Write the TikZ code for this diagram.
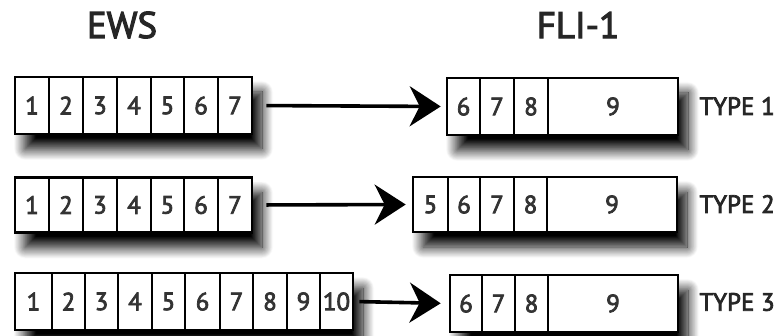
\documentclass[tikz,border=0pt]{standalone}
\usepackage{fontspec}
\setmainfont{PT Sans}
\newfontfamily\semib[FakeBold=3]{PT Sans}
\usetikzlibrary{arrows.meta,shadows.blur}
\tikzset{
  outerbox/.style={draw=black, line width=2.6pt, fill=white, inner sep=0pt,
    blur shadow={shadow xshift=10pt, shadow yshift=-15pt, shadow blur radius=11pt, shadow blur steps=16, shadow opacity=100}},
  cellbox/.style={draw=black, line width=1.3pt, inner sep=0pt, font=\fontsize{25}{25}\semib, text=black!80},
  header/.style={font=\fontsize{37}{37}\semib, text=black!85},
  typelabel/.style={font=\fontsize{25}{25}\semib, text=black!85, anchor=west},
  arr/.style={line width=3.6pt, -{Stealth[length=31pt,width=40pt,inset=10pt]}}
}
\begin{document}
\begin{tikzpicture}[x=1pt,y=-1pt]
\useasboundingbox (0,0) rectangle (784,336);
\node[header] (ews) at (122,25) {EWS};
\node[header] (fli) at (578,25) {FLI-1};

% ---------- Row 1 ----------
\node[outerbox, minimum width=237pt, minimum height=57pt] (e1) at (133.5,105.5) {};
\foreach \a/\b/\t [count=\i] in {15/49/1,49/83/2,83/117/3,117/151/4,151/184/5,184/218/6,218/252/7}
  \node[cellbox, minimum width=\b-\a, minimum height=57pt] (e1c\i) at ({(\a+\b)/2},105.5) {\t};
\node[draw, line width=2.6pt, minimum width=237pt, minimum height=57pt] (e1b) at (133.5,105.5) {};

\node[outerbox, minimum width=231pt, minimum height=57pt] (f1) at (562.5,106.5) {};
\foreach \a/\b/\t [count=\i] in {447/480/6,480/514/7,514/548/8,548/678/9}
  \node[cellbox, minimum width=\b-\a, minimum height=57pt] (f1c\i) at ({(\a+\b)/2},106.5) {\t};
\node[draw, line width=2.6pt, minimum width=231pt, minimum height=57pt] (f1b) at (562.5,106.5) {};
\node[typelabel] (t1) at (696,106) {TYPE 1};

% ---------- Row 2 ----------
\node[outerbox, minimum width=237pt, minimum height=55pt] (e2) at (133.5,205) {};
\foreach \a/\b/\t [count=\i] in {15/49/1,49/83/2,83/117/3,117/151/4,151/184/5,184/218/6,218/252/7}
  \node[cellbox, minimum width=\b-\a, minimum height=55pt] (e2c\i) at ({(\a+\b)/2},205) {\t};
\node[draw, line width=2.6pt, minimum width=237pt, minimum height=55pt] (e2b) at (133.5,205) {};

\node[outerbox, minimum width=264pt, minimum height=55pt] (f2) at (545,204.5) {};
\foreach \a/\b/\t [count=\i] in {413/448/5,448/480/6,480/514/7,514/547/8,547/677/9}
  \node[cellbox, minimum width=\b-\a, minimum height=55pt] (f2c\i) at ({(\a+\b)/2},204.5) {\t};
\node[draw, line width=2.6pt, minimum width=264pt, minimum height=55pt] (f2b) at (545,204.5) {};
\node[typelabel] (t2) at (696,204) {TYPE 2};

% ---------- Row 3 ----------
\node[outerbox, minimum width=338pt, minimum height=57pt] (e3) at (184,301.5) {};
\foreach \a/\b/\t [count=\i] in {15/52/1,52/85/2,85/118/3,118/152/4,152/185/5,185/220/6,220/253/7,253/287/8,287/320/9,320/353/10}
  \node[cellbox, minimum width=\b-\a, minimum height=57pt] (e3c\i) at ({(\a+\b)/2},301.5) {\t};
\node[draw, line width=2.6pt, minimum width=338pt, minimum height=57pt] (e3b) at (184,301.5) {};

\node[outerbox, minimum width=228pt, minimum height=57pt] (f3) at (564,303.5) {};
\foreach \a/\b/\t [count=\i] in {450/482/6,482/515/7,515/548/8,548/678/9}
  \node[cellbox, minimum width=\b-\a, minimum height=57pt] (f3c\i) at ({(\a+\b)/2},303.5) {\t};
\node[draw, line width=2.6pt, minimum width=228pt, minimum height=57pt] (f3b) at (564,303.5) {};
\node[typelabel] (t3) at (696,302) {TYPE 3};

% ---------- Arrows ----------
\draw[arr, shorten <=13pt, shorten >=5pt] (e1b.east) -- (f1b.west);
\draw[arr, shorten <=13pt, shorten >=6pt] (e2b.east) -- (f2b.west);
\draw[arr, shorten <=5pt, shorten >=8pt] (e3b.east) -- (f3b.west);
\end{tikzpicture}
\end{document}
